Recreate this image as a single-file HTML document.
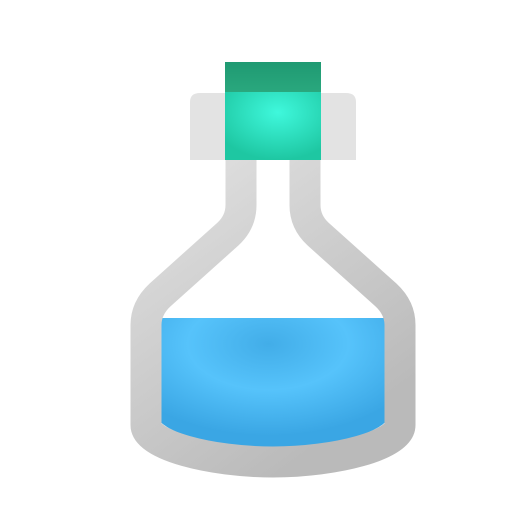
<!DOCTYPE html>
<html><head><meta charset="utf-8"><style>html,body{margin:0;padding:0;background:#fff}svg{display:block}</style></head>
<body>
<svg width="512" height="512" viewBox="0 0 512 512" xmlns="http://www.w3.org/2000/svg">
<defs>
<linearGradient id="glass" x1="0" y1="0" x2="0.6" y2="1">
<stop offset="0" stop-color="#e2e2e2"/><stop offset="1" stop-color="#bababa"/></linearGradient>
<radialGradient id="liq" cx="0.48" cy="0.2" r="0.7">
<stop offset="0" stop-color="#42ade8"/><stop offset="0.5" stop-color="#56c3fb"/><stop offset="1" stop-color="#3aa6e4"/></radialGradient>
<linearGradient id="corkTop" x1="0" y1="0" x2="0" y2="1"><stop offset="0" stop-color="#1f9a72"/><stop offset="1" stop-color="#2aa87e"/></linearGradient>
<radialGradient id="corkLow" cx="0.55" cy="0.3" r="0.7"><stop offset="0" stop-color="#3ff8dc"/><stop offset="1" stop-color="#1ec7a2"/></radialGradient>
</defs>
<path d="M158,318 L388,318 L388,417 C388,428 340,449 273,449 C206,449 158,428 158,417 Z" fill="url(#liq)"/>
<path d="M241,160 L241,205 Q241,222 228,234 L160,295 Q146,308 146,325 L146,425 C146,445 210,462 273,462 C336,462 400,445 400,425 L400,325 Q400,308 386,295 L318,234 Q305,222 305,205 L305,160" fill="none" stroke="url(#glass)" stroke-width="31" stroke-linejoin="round"/>
<path d="M190,160 L190,102 Q190,93 200,93 L346,93 Q356,93 356,102 L356,160 Z" fill="#e3e3e3"/>
<rect x="225" y="62" width="96" height="31" fill="url(#corkTop)"/>
<rect x="225" y="92" width="96" height="68" fill="url(#corkLow)"/>
</svg>
</body></html>
